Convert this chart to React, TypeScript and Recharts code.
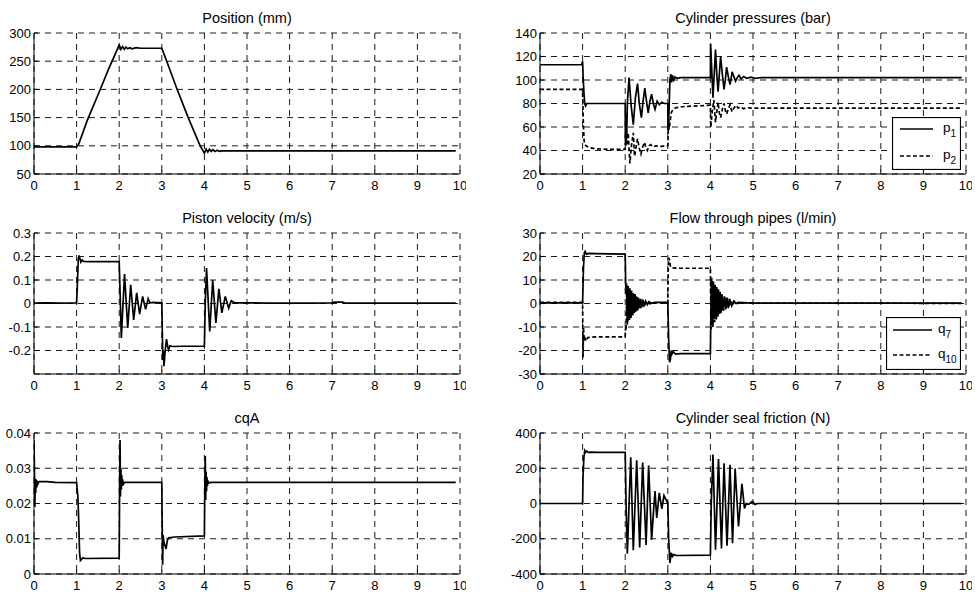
import React from 'react';
import { LineChart, Line, XAxis, YAxis, CartesianGrid, Legend } from 'recharts';

const FONT = '"Liberation Sans", Arial, Helvetica, sans-serif';

// ---------- tick labels ----------
const timeTicks = [0, 1, 2, 3, 4, 5, 6, 7, 8, 9, 10];
const positionTicks = [50, 100, 150, 200, 250, 300];
const pressureTicks = [20, 40, 60, 80, 100, 120, 140];
const velocityTicks = [-0.2, -0.1, 0, 0.1, 0.2, 0.3];
const flowTicks = [-30, -20, -10, 0, 10, 20, 30];
const cqaTicks = [0, 0.01, 0.02, 0.03, 0.04];
const frictionTicks = [-400, -200, 0, 200, 400];

// ---------- Position (mm) ----------
const positionT = [0, 0.5, 1.0, 1.05, 1.25, 1.55, 1.75, 1.95, 2.0, 2.04, 2.08, 2.12, 2.16, 2.2, 2.25, 2.3, 2.4, 2.5, 2.7, 3.0, 3.1, 3.35, 3.62, 3.9, 4.0, 4.04, 4.08, 4.12, 4.16, 4.2, 4.25, 4.3, 4.35, 4.4, 5.0, 7.0, 9.9];
const positionV = [98, 98, 98, 103, 145, 199, 236, 270, 279, 271, 276, 271, 275, 272, 274, 272, 274, 273, 273, 273, 253, 202, 150, 100, 87, 94, 89, 94, 90, 93, 90, 92, 90, 91, 91, 91, 91];

// ---------- Cylinder pressures (bar) ----------
const p1T = [0, 0.5, 0.98, 1.0, 1.01, 1.03, 1.05, 1.07, 1.1, 1.3, 2.0,
  2.005, 2.01, 2.015, 2.025, 2.035, 2.05, 2.09, 2.14, 2.19, 2.24, 2.29, 2.33, 2.38, 2.42, 2.46, 2.5, 2.54, 2.58, 2.62, 2.66, 2.7, 2.75, 2.8, 2.86, 2.92, 3.0,
  3.005, 3.015, 3.03, 3.05, 3.07, 3.09, 3.11, 3.14, 3.17, 3.22, 3.3, 4.0,
  4.005, 4.03, 4.06, 4.09, 4.12, 4.15, 4.18, 4.21, 4.24, 4.28, 4.32, 4.35, 4.38, 4.42, 4.46, 4.49, 4.51, 4.55, 4.59, 4.63, 4.67, 4.72, 4.78, 4.85, 4.95, 5.05, 5.2, 9.9];
const p1V = [113, 113, 113, 116, 105, 90, 80, 78, 80, 80, 80,
  48, 72, 44, 60, 50, 80, 102, 78, 62, 85, 97, 80, 68, 82, 93, 82, 72, 82, 88, 80, 75, 82, 79, 81, 80, 80,
  57, 62, 75, 100, 105, 98, 104, 100, 102.5, 101.5, 102, 102,
  131, 110, 85, 105, 126, 105, 90, 105, 120, 105, 92, 100, 111, 103, 96, 102, 107, 103, 99, 102, 104, 101, 103, 101.5, 102.5, 101.5, 102, 102];

const p2T = [0, 0.5, 0.98, 1.0, 1.02, 1.04, 1.08, 1.15, 1.3, 1.6, 2.0,
  2.01, 2.04, 2.07, 2.11, 2.15, 2.19, 2.22, 2.26, 2.29, 2.33, 2.37, 2.41, 2.45, 2.49, 2.52, 2.56, 2.6, 2.65, 2.72, 2.8, 3.0,
  3.01, 3.02, 3.03, 3.05, 3.08, 3.12, 3.2, 3.4, 3.7, 4.0,
  4.01, 4.04, 4.08, 4.12, 4.15, 4.18, 4.21, 4.24, 4.28, 4.32, 4.35, 4.38, 4.42, 4.46, 4.49, 4.51, 4.55, 4.6, 4.65, 4.7, 4.78, 4.85, 5.0, 9.9];
const p2V = [92, 92, 92, 90, 60, 46, 44, 42.5, 41.5, 41, 41,
  53, 45, 55, 29, 45, 55, 35, 44, 50, 42, 37, 43, 47, 42, 40, 44, 45, 43, 44, 43.5, 44,
  55, 66, 58, 63, 72, 75, 76.5, 77.5, 78, 78.5,
  60, 72, 83, 64, 73, 81, 72, 68, 75, 80, 74, 71, 75, 79, 75, 73, 76, 78.5, 76, 77, 75.5, 76.5, 76, 76];

// ---------- Piston velocity (m/s) ----------
const velocityT = [0, 0.3, 0.6, 1.0, 1.02, 1.04, 1.06, 1.08, 1.1, 1.13, 1.16, 1.3, 2.0,
  2.02, 2.05, 2.125, 2.2, 2.27, 2.34, 2.41, 2.48, 2.55, 2.62, 2.68, 2.72, 2.8, 3.0,
  3.01, 3.025, 3.035, 3.05, 3.08, 3.11, 3.14, 3.16, 3.19, 3.25, 3.5, 4.0,
  4.02, 4.05, 4.125, 4.195, 4.27, 4.34, 4.41, 4.49, 4.57, 4.63, 4.7, 4.8, 5.5, 6.5, 7.0, 7.05, 7.25, 7.3, 9.9];
const velocityV = [0.002, 0.003, 0.002, 0.003, 0.09, 0.19, 0.205, 0.19, 0.176, 0.185, 0.179, 0.178, 0.178,
  0.05, -0.147, 0.125, -0.104, 0.08, -0.07, 0.045, -0.045, 0.03, -0.025, 0.02, 0.003, 0.005, 0.003,
  -0.1, -0.24, -0.2, -0.267, -0.2, -0.152, -0.185, -0.197, -0.18, -0.183, -0.182, -0.182,
  0.0, 0.151, -0.119, 0.1, -0.083, 0.062, -0.04, 0.03, -0.02, 0.012, 0.004, 0.003, 0.002, 0.002, 0.003, 0.006, 0.006, 0.002, 0.002];

// ---------- Flow through pipes (l/min) ----------
const q7T = [0, 1.0, 1.02, 1.04, 1.06, 1.09, 1.15, 1.3, 2.0,
  2.015, 2.03, 2.05, 2.07, 2.09, 2.11, 2.13, 2.15, 2.17, 2.19, 2.21, 2.23, 2.25, 2.27, 2.29, 2.31, 2.33, 2.36, 2.39, 2.42, 2.45, 2.48, 2.52, 2.56, 2.6, 2.7, 3.0,
  3.02, 3.04, 3.06, 3.08, 3.1, 3.13, 3.18, 3.3, 4.0,
  4.015, 4.03, 4.05, 4.07, 4.09, 4.11, 4.13, 4.15, 4.17, 4.19, 4.21, 4.23, 4.25, 4.27, 4.3, 4.33, 4.36, 4.39, 4.42, 4.45, 4.5, 4.55, 4.6, 4.65, 5.0, 9.9];
const q7V = [0.3, 0.3, 15, 21.5, 22.2, 21, 21.3, 21.2, 21,
  4, 8.5, -9, 7.5, -7, 6.5, -6, 5.5, -5, 4.5, -4, 4, -3.5, 3, -3, 2.5, -2, 2, -1.5, 1.5, -1, 1, -0.5, 0.8, 0.2, 0.5, 0.5,
  -15, -25, -24, -20, -21.5, -20.5, -21.5, -21.3, -21.3,
  0, 11, -7, 9.5, -6.5, 8, -6, 7, -5, 6, -4.5, 5, -4, 4, -3, 3, -2.5, 2.5, -2, 2, -1, 1, 0, 0.5, 0.2, 0.2];

const q10T = [0, 1.0, 1.01, 1.02, 1.04, 1.06, 1.08, 1.12, 1.3, 2.0,
  2.01, 2.02, 2.04, 2.06, 2.08, 2.1, 2.12, 2.14, 2.16, 2.18, 2.2, 2.22, 2.24, 2.26, 2.28, 2.3, 2.33, 2.36, 2.4, 2.44, 2.5, 2.6, 2.7, 3.0,
  3.01, 3.02, 3.04, 3.06, 3.08, 3.3, 4.0,
  4.01, 4.02, 4.04, 4.06, 4.08, 4.1, 4.12, 4.14, 4.16, 4.18, 4.2, 4.22, 4.24, 4.26, 4.28, 4.31, 4.34, 4.37, 4.4, 4.44, 4.48, 4.52, 4.56, 4.6, 4.7, 5.0, 7.5, 9.9];
const q10V = [0.5, 0.5, -23, -10, -16, -15, -16, -14.5, -14.2, -14.2,
  -10, -11, 7, -8, 6, -7.5, 5, -6, 4.5, -5, 4, -4, 3, -3, 2.5, -2.5, 2, -2, 1, -1, 0.5, -0.2, 0.3, 0.3,
  15, 19.5, 18.5, 16, 15.2, 15, 15,
  0, -11, 8, -10, 7, -8, 6, -7, 5, -5.5, 4.5, -4.5, 4, -3.5, 3, -3, 2.5, -2, 2, -1.5, 1.5, -1, 0.8, -0.2, 0.3, 0.2, 0.2, 0];

// ---------- cqA ----------
const cqaT = [0, 0.01, 0.02, 0.03, 0.04, 0.05, 0.06, 0.07, 0.09, 0.12, 0.3, 0.5, 1.0,
  1.03, 1.05, 1.07, 1.09, 1.12, 1.15, 1.2, 2.0,
  2.01, 2.02, 2.03, 2.04, 2.05, 2.06, 2.07, 2.08, 2.1, 2.13, 3.0,
  3.01, 3.02, 3.03, 3.05, 3.1, 3.13, 3.16, 3.3, 4.0,
  4.01, 4.02, 4.03, 4.04, 4.05, 4.06, 4.07, 4.08, 4.1, 4.15, 9.9];
const cqaV = [0.038, 0.03, 0.019, 0.027, 0.023, 0.0268, 0.0245, 0.0265, 0.0255, 0.0262, 0.0262, 0.026, 0.0259,
  0.022, 0.015, 0.006, 0.0038, 0.0042, 0.0046, 0.0044, 0.0045,
  0.025, 0.038, 0.022, 0.03, 0.024, 0.028, 0.025, 0.0268, 0.0255, 0.026, 0.026,
  0.012, 0.0026, 0.011, 0.009, 0.0071, 0.0095, 0.0103, 0.0105, 0.0108,
  0.025, 0.0335, 0.021, 0.029, 0.0235, 0.0275, 0.025, 0.0265, 0.0258, 0.026, 0.026];

// ---------- Cylinder seal friction (N) ----------
const frictionT = [0, 1.0, 1.01, 1.03, 1.05, 1.07, 1.1, 1.13, 1.2, 1.4, 2.0,
  2.02, 2.05, 2.13, 2.19, 2.27, 2.34, 2.41, 2.49, 2.55, 2.62, 2.66, 2.7, 2.74, 2.8, 2.86, 2.91, 2.96, 2.99, 3.0,
  3.02, 3.05, 3.08, 3.11, 3.14, 3.2, 4.0,
  4.02, 4.06, 4.12, 4.19, 4.26, 4.32, 4.39, 4.46, 4.52, 4.58, 4.66, 4.74, 4.8, 4.84, 4.9, 4.98, 5.05, 5.1, 9.9];
const frictionV = [0, 0, 150, 260, 300, 290, 298, 290, 292, 290, 290,
  0, -285, 262, -265, 245, -250, 232, -235, 215, -205, -60, 70, -82, 60, -30, 45, 20, 5, 10,
  -200, -337, -280, -300, -290, -295, -293,
  0, 278, -262, 252, -255, 228, -240, 220, -225, 198, -130, 112, -28, 0, -5, 12, -5, 0, 0];

type Row = { t: number; v: number };
const toRows = (t: number[], v: number[]): Row[] => t.map((x, i) => ({ t: x, v: v[i] }));

type Series = { name: string; t: number[]; v: number[]; dashed?: boolean };
type LegendEntry = { base: string; sub: string; dashed?: boolean };
type LegendSpec = { left: number; top: number; width: number; height: number; x1: number; x2: number; tx: number; ys: number[]; entries: LegendEntry[] };

function LegendBox({ spec }: { spec: LegendSpec }) {
  const { width, height, x1, x2, tx, ys, entries } = spec;
  return (
    <svg width={width} height={height} style={{ display: 'block' }}>
      <rect x={0.5} y={0.5} width={width - 1} height={height - 1} fill="#fff" stroke="#000" strokeWidth={1.2} />
      {entries.map((e, i) => (
        <g key={e.base + e.sub}>
          <line x1={x1} x2={x2} y1={ys[i]} y2={ys[i]} stroke="#000" strokeWidth={1.6}
            strokeDasharray={e.dashed ? '4 2.5' : undefined} />
          <text x={tx} y={ys[i] + 3} fontSize={13.5} fontFamily={FONT} fill="#000">
            {e.base}
            <tspan dy={5} fontSize={10}>{e.sub}</tspan>
          </text>
        </g>
      ))}
    </svg>
  );
}

type PanelProps = {
  left: number;
  top: number;
  title: string;
  domain: [number, number];
  ticks: number[];
  series: Series[];
  legend?: LegendSpec;
};

const CHART_W = 466;
const CHART_H = 193;
const PLOT_LEFT = 34;
const PLOT_W = 426;
const PLOT_TOP = 30;

function Panel({ left, top, title, domain, ticks, series, legend }: PanelProps) {
  const axisStroke = { stroke: '#000', strokeWidth: 1 };
  return (
    <div style={{ position: 'absolute', left, top, width: CHART_W, height: CHART_H }}>
      <svg width={CHART_W} height={PLOT_TOP} style={{ position: 'absolute', left: 0, top: 0 }}>
        <text x={PLOT_LEFT + PLOT_W / 2} y={PLOT_TOP - 10} textAnchor="middle" fontSize={14.5}
          fontFamily={FONT} fill="#000">{title}</text>
      </svg>
      <LineChart width={CHART_W} height={CHART_H} margin={{ top: PLOT_TOP, right: 6, bottom: 0, left: 0 }}>
        <CartesianGrid stroke="#1a1a1a" strokeDasharray="6 5" strokeWidth={1} />
        <XAxis dataKey="t" type="number" domain={[0, 10]} ticks={timeTicks} interval={0} allowDataOverflow
          height={22} tickSize={-4} tickMargin={11} axisLine={axisStroke} tickLine={axisStroke}
          tick={{ fill: '#000', fontSize: 13, fontFamily: FONT }} />
        <XAxis xAxisId="top" orientation="top" type="number" domain={[0, 10]} ticks={timeTicks} interval={0}
          allowDataOverflow height={0} tickSize={-4} tick={false} axisLine={axisStroke} tickLine={axisStroke} />
        <YAxis type="number" domain={domain} ticks={ticks} interval={0} allowDataOverflow width={PLOT_LEFT}
          tickSize={-4} tickMargin={7} axisLine={axisStroke} tickLine={axisStroke}
          tick={{ fill: '#000', fontSize: 13, fontFamily: FONT }} />
        <YAxis yAxisId="right" orientation="right" type="number" domain={domain} ticks={ticks} interval={0}
          allowDataOverflow width={0} tickSize={-4} tick={false} axisLine={axisStroke} tickLine={axisStroke} />
        {series.map((s) => (
          <Line key={s.name} name={s.name} data={toRows(s.t, s.v)} dataKey="v" type="linear" stroke="#000"
            strokeWidth={1.7} strokeDasharray={s.dashed ? '4 2.5' : undefined} dot={false} activeDot={false}
            isAnimationActive={false} />
        ))}
        {legend && (
          <Legend layout="horizontal" verticalAlign="middle" align="center"
            wrapperStyle={{ left: legend.left, top: legend.top, width: legend.width, height: legend.height }}
            content={() => <LegendBox spec={legend} />} />
        )}
      </LineChart>
    </div>
  );
}

const pressureLegend: LegendSpec = {
  left: 386, top: 114, width: 69, height: 53, x1: 8, x2: 41, tx: 51, ys: [12, 39],
  entries: [{ base: 'p', sub: '1' }, { base: 'p', sub: '2', dashed: true }],
};
const flowLegend: LegendSpec = {
  left: 380, top: 114, width: 75, height: 53, x1: 7, x2: 46, tx: 52, ys: [13, 38],
  entries: [{ base: 'q', sub: '7' }, { base: 'q', sub: '10', dashed: true }],
};

export default function App() {
  return (
    <div style={{ position: 'absolute', left: 0, top: 0, width: 975, height: 593, background: '#fff', fontFamily: FONT }}>
      <Panel left={0} top={3} title="Position (mm)" domain={[50, 300]} ticks={positionTicks}
        series={[{ name: 'position', t: positionT, v: positionV }]} />
      <Panel left={506} top={3} title="Cylinder pressures (bar)" domain={[20, 140]} ticks={pressureTicks}
        series={[{ name: 'p1', t: p1T, v: p1V }, { name: 'p2', t: p2T, v: p2V, dashed: true }]}
        legend={pressureLegend} />
      <Panel left={0} top={203} title="Piston velocity (m/s)" domain={[-0.3, 0.3]} ticks={velocityTicks}
        series={[{ name: 'velocity', t: velocityT, v: velocityV }]} />
      <Panel left={506} top={203} title="Flow through pipes (l/min)" domain={[-30, 30]} ticks={flowTicks}
        series={[{ name: 'q7', t: q7T, v: q7V }, { name: 'q10', t: q10T, v: q10V, dashed: true }]}
        legend={flowLegend} />
      <Panel left={0} top={403} title="cqA" domain={[0, 0.04]} ticks={cqaTicks}
        series={[{ name: 'cqA', t: cqaT, v: cqaV }]} />
      <Panel left={506} top={403} title="Cylinder seal friction (N)" domain={[-400, 400]} ticks={frictionTicks}
        series={[{ name: 'friction', t: frictionT, v: frictionV }]} />
    </div>
  );
}
